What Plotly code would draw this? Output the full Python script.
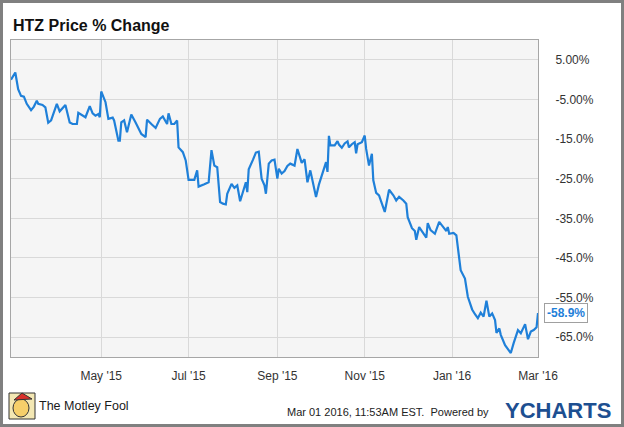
import plotly.graph_objects as go

# ---------------- data ----------------
dates = [
    "2015-02-27", "2015-03-02", "2015-03-04", "2015-03-05", "2015-03-06", "2015-03-08",
    "2015-03-10", "2015-03-13", "2015-03-15", "2015-03-17", "2015-03-18", "2015-03-21",
    "2015-03-23", "2015-03-25", "2015-03-27", "2015-03-31", "2015-04-02", "2015-04-06",
    "2015-04-09", "2015-04-11", "2015-04-14", "2015-04-15", "2015-04-18", "2015-04-20",
    "2015-04-23", "2015-04-25", "2015-04-27", "2015-04-29", "2015-04-30", "2015-05-01",
    "2015-05-04", "2015-05-06", "2015-05-09", "2015-05-10", "2015-05-13", "2015-05-14",
    "2015-05-15", "2015-05-17", "2015-05-19", "2015-05-22", "2015-05-25", "2015-05-29",
    "2015-06-01", "2015-06-02", "2015-06-05", "2015-06-08", "2015-06-11", "2015-06-13",
    "2015-06-16", "2015-06-17", "2015-06-19", "2015-06-21", "2015-06-23", "2015-06-24",
    "2015-06-27", "2015-06-29", "2015-07-01", "2015-07-05", "2015-07-07", "2015-07-08",
    "2015-07-12", "2015-07-15", "2015-07-17", "2015-07-19", "2015-07-21", "2015-07-23",
    "2015-07-25", "2015-07-27", "2015-07-28", "2015-07-31", "2015-08-02", "2015-08-04",
    "2015-08-06", "2015-08-10", "2015-08-11", "2015-08-12", "2015-08-15", "2015-08-17",
    "2015-08-19", "2015-08-21", "2015-08-23", "2015-08-24", "2015-08-26", "2015-08-28",
    "2015-08-30", "2015-09-01", "2015-09-02", "2015-09-04", "2015-09-06", "2015-09-08",
    "2015-09-10", "2015-09-13", "2015-09-15", "2015-09-18", "2015-09-20", "2015-09-22",
    "2015-09-24", "2015-09-26", "2015-09-28", "2015-09-30", "2015-10-03", "2015-10-05",
    "2015-10-06", "2015-10-07", "2015-10-08", "2015-10-11", "2015-10-13", "2015-10-14",
    "2015-10-16", "2015-10-18", "2015-10-20", "2015-10-21", "2015-10-23", "2015-10-25",
    "2015-10-26", "2015-10-27", "2015-10-30", "2015-11-01", "2015-11-02", "2015-11-04",
    "2015-11-06", "2015-11-07", "2015-11-09", "2015-11-11", "2015-11-13", "2015-11-15",
    "2015-11-18", "2015-11-21", "2015-11-23", "2015-11-25", "2015-11-28", "2015-11-30",
    "2015-12-01", "2015-12-04", "2015-12-06", "2015-12-07", "2015-12-09", "2015-12-12",
    "2015-12-14", "2015-12-15", "2015-12-17", "2015-12-20", "2015-12-23", "2015-12-26",
    "2015-12-28", "2015-12-29", "2015-12-30", "2016-01-02", "2016-01-04", "2016-01-07",
    "2016-01-10", "2016-01-12", "2016-01-15", "2016-01-17", "2016-01-19", "2016-01-21",
    "2016-01-23", "2016-01-25", "2016-01-27", "2016-01-29", "2016-01-31", "2016-02-01",
    "2016-02-03", "2016-02-04", "2016-02-07", "2016-02-09", "2016-02-11", "2016-02-13",
    "2016-02-16", "2016-02-18", "2016-02-21", "2016-02-23", "2016-02-25", "2016-02-27",
    "2016-02-29", "2016-03-01",
]

pct_change = [
    0.0, 1.8, -2.4, -3.2, -4.1, -4.3,
    -6.1, -7.7, -6.8, -5.3, -6.1, -6.4,
    -7.0, -10.9, -10.3, -6.1, -8.0, -6.4,
    -10.8, -11.2, -11.2, -8.4, -9.1, -9.5,
    -6.7, -8.5, -9.1, -8.7, -9.5, -3.0,
    -5.7, -9.9, -9.6, -10.3, -15.4, -15.4,
    -10.8, -10.3, -13.3, -8.8, -10.8, -13.7,
    -14.5, -10.1, -11.2, -12.2, -9.9, -9.3,
    -11.2, -8.5, -11.2, -11.2, -10.3, -17.1,
    -18.3, -20.4, -25.3, -25.3, -22.9, -27.0,
    -26.4, -25.9, -17.8, -21.7, -22.1, -30.9,
    -31.3, -31.5, -28.8, -26.3, -27.3, -26.7,
    -30.7, -25.9, -28.4, -22.6, -20.2, -18.4,
    -18.2, -25.0, -26.7, -28.8, -21.2, -20.4,
    -20.2, -25.0, -22.5, -23.7, -23.1, -21.8,
    -21.2, -21.7, -17.5, -21.0, -20.1, -25.9,
    -22.9, -26.3, -29.6, -26.5, -22.9, -20.8,
    -23.3, -14.2, -16.6, -16.6, -15.5, -16.4,
    -17.2, -16.1, -15.6, -17.1, -16.3, -15.8,
    -18.6, -16.3, -15.8, -14.1, -17.5, -21.7,
    -18.7, -25.4, -28.6, -29.2, -31.3, -33.4,
    -27.8, -29.2, -30.5, -29.6, -30.5, -31.3,
    -34.7, -37.5, -38.2, -40.4, -37.2, -38.9,
    -39.9, -36.2, -38.0, -38.9, -35.9, -37.3,
    -38.2, -37.2, -38.9, -38.7, -39.3, -48.1,
    -50.2, -54.8, -58.0, -59.2, -60.2, -58.8,
    -59.8, -55.8, -59.8, -59.0, -60.7, -63.9,
    -62.8, -64.4, -67.0, -68.0, -69.0, -66.5,
    -63.2, -64.0, -61.7, -65.5, -63.6, -63.2,
    -62.5, -58.9,
]

y_tick_vals = [5, -5, -15, -25, -35, -45, -55, -65]
y_tick_text = ["5.00%", "-5.00%", "-15.0%", "-25.0%", "-35.0%", "-45.0%", "-55.0%", "-65.0%"]
x_tick_vals = ["2015-05-01", "2015-07-01", "2015-09-01", "2015-11-01", "2016-01-01", "2016-03-01"]
x_tick_text = ["May '15", "Jul '15", "Sep '15", "Nov '15", "Jan '16", "Mar '16"]

title_text = "HTZ Price % Change"
last_label = "-58.9%"

# ---------------- layout geometry ----------------
W, H = 624, 427
L, R, T, B = 11, 86, 40, 70
PW, PH = W - L - R, H - T - B


def px(x):
    return (x - L) / PW


def py(y):
    return (H - B - y) / PH


FONT = "Liberation Sans, Arial, sans-serif"
LINE_BLUE = "#1f80d9"

fig = go.Figure()
fig.add_trace(go.Scatter(
    x=dates, y=pct_change, mode="lines",
    line=dict(color=LINE_BLUE, width=2.2),
    hoverinfo="skip", showlegend=False,
))

fig.update_layout(
    width=W, height=H,
    margin=dict(l=L, r=R, t=T, b=B, pad=0),
    paper_bgcolor="white",
    plot_bgcolor="#f5f5f5",
    font=dict(family=FONT, size=12, color="#333333"),
    showlegend=False,
)

fig.update_xaxes(
    type="date",
    range=["2015-02-27", "2016-03-01"],
    tickmode="array", tickvals=x_tick_vals, ticktext=x_tick_text,
    showgrid=True, gridcolor="#d9d9d9", gridwidth=1,
    showline=True, mirror=True, linecolor="#a6a6a6", linewidth=1,
    ticks="outside", ticklen=8, tickcolor="rgba(0,0,0,0)",
    tickfont=dict(family=FONT, size=12, color="#333333"),
    zeroline=False, fixedrange=True,
)
fig.update_yaxes(
    range=[-70, 10], side="right",
    tickmode="array", tickvals=y_tick_vals, ticktext=y_tick_text,
    showgrid=True, gridcolor="#d9d9d9", gridwidth=1,
    showline=True, mirror=True, linecolor="#a6a6a6", linewidth=1,
    ticks="outside", ticklen=14, tickcolor="rgba(0,0,0,0)",
    tickfont=dict(family=FONT, size=12, color="#333333"),
    zeroline=False, fixedrange=True,
)

# outer frame of the image
fig.add_shape(type="rect", xref="paper", yref="paper",
              x0=px(1.5), x1=px(W - 1.5), y0=py(H - 1.5), y1=py(1.5),
              line=dict(color="#808080", width=3), layer="above")

# Motley Fool logo stand-in
fig.add_shape(type="rect", xref="paper", yref="paper",
              x0=px(9), x1=px(35), y0=py(419), y1=py(393),
              line=dict(color="#333333", width=1), fillcolor="#f3e7b3", layer="above")
fig.add_shape(type="circle", xref="paper", yref="paper",
              x0=px(13), x1=px(29), y0=py(417), y1=py(399),
              line=dict(color="#333333", width=1), fillcolor="#f6cf6a", layer="above")
fig.add_shape(type="path", xref="paper", yref="paper",
              path=f"M {px(14)},{py(400)} L {px(22)},{py(393)} L {px(32)},{py(399)} Z",
              line=dict(color="#333333", width=1), fillcolor="#d8312b", layer="above")

annotations = [
    dict(text=f"<b>{title_text}</b>", xref="paper", yref="paper",
         x=px(11), y=py(25), xanchor="left", yanchor="middle", showarrow=False,
         font=dict(family=FONT, size=16, color="#111111")),
    dict(text=f"<b>{last_label}</b>", xref="x", yref="y",
         x=dates[-1], y=pct_change[-1], xanchor="left", yanchor="middle",
         xshift=6, showarrow=False,
         bgcolor="white", bordercolor="#a0a0a0", borderwidth=1, borderpad=2,
         font=dict(family=FONT, size=12, color=LINE_BLUE)),
    dict(text="The Motley Fool", xref="paper", yref="paper",
         x=px(37), y=py(406), xanchor="left", yanchor="middle", showarrow=False,
         font=dict(family=FONT, size=12.5, color="#1a1a1a")),
    dict(text="Mar 01 2016, 11:53AM EST.  Powered by", xref="paper", yref="paper",
         x=px(491), y=py(412), xanchor="right", yanchor="middle", showarrow=False,
         font=dict(family=FONT, size=11, color="#222222")),
    dict(text="<b>YCHARTS</b>", xref="paper", yref="paper",
         x=px(503), y=py(410), xanchor="left", yanchor="middle", showarrow=False,
         font=dict(family=FONT, size=22, color="#1d4f91")),
]
fig.update_layout(annotations=annotations)

fig.write_html("out.html", config={"displayModeBar": False},
               post_script="document.body.style.margin='0';")
